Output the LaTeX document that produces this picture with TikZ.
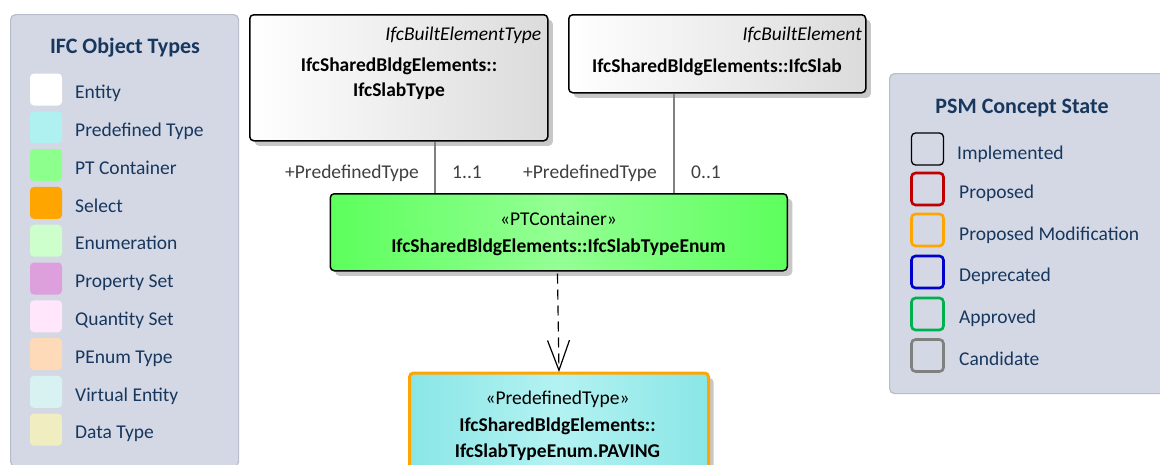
\documentclass[tikz,border=0pt]{standalone}
\usepackage{fontspec}
\setmainfont{Carlito}
\usetikzlibrary{arrows.meta,shadows}
\definecolor{legbg}{HTML}{D4D8E4}
\definecolor{legborder}{HTML}{B9BDCB}
\definecolor{navy}{HTML}{17375E}
\definecolor{conn}{HTML}{808080}
\definecolor{swPT}{HTML}{AFF0F0}
\definecolor{swPTC}{HTML}{8CFF8C}
\definecolor{swSel}{HTML}{FFA500}
\definecolor{swEnum}{HTML}{CCFFCC}
\definecolor{swPset}{HTML}{DDA0DD}
\definecolor{swQset}{HTML}{FFE6FA}
\definecolor{swPEnum}{HTML}{FFDAB9}
\definecolor{swVirt}{HTML}{D8F2F2}
\definecolor{swData}{HTML}{F0EEC0}
\definecolor{stRed}{HTML}{C00000}
\definecolor{stOrange}{HTML}{FFA500}
\definecolor{stBlue}{HTML}{0000CC}
\definecolor{stGreen}{HTML}{00B050}
\definecolor{stGrey}{HTML}{808080}
\definecolor{grA}{HTML}{5CFF5C}
\definecolor{grB}{HTML}{94FF94}
\definecolor{cyA}{HTML}{8AE6E6}
\definecolor{cyB}{HTML}{B4F2F2}
\tikzset{
  legbox/.style={draw=legborder, line width=1.2pt, fill=legbg, rounded corners=5pt, anchor=north west, inner sep=0pt},
  swatch/.style={rounded corners=4pt, minimum width=32pt, minimum height=32pt, inner sep=0pt},
  stbox/.style={swatch, fill=legbg, line width=2.6pt},
  legtext/.style={text=navy, font=\fontsize{19.5}{22}\selectfont, anchor=base west, inner sep=0pt},
  legtitle/.style={text=navy, font=\fontsize{22}{24}\selectfont\bfseries, anchor=base, inner sep=0pt},
  umlbox/.style={draw=black, line width=1.5pt, rounded corners=4pt, anchor=north west, inner sep=0pt,
     drop shadow={shadow xshift=5pt, shadow yshift=-5pt, fill=black!22, opacity=1}},
  stereo/.style={font=\fontsize{19.5}{22}\selectfont\itshape, anchor=base east, inner sep=0pt},
  bold/.style={font=\fontsize{19.5}{22}\selectfont\bfseries, anchor=base, inner sep=0pt},
  plain/.style={font=\fontsize{19.5}{22}\selectfont, anchor=base, inner sep=0pt},
  rolelabel/.style={text=black!75, font=\fontsize{19.5}{22}\selectfont, anchor=base west, inner sep=0pt},
  assoc/.style={draw=conn, line width=1.1pt},
  dep/.style={draw=black, line width=1.2pt, dash pattern=on 10pt off 6pt, -{Straight Barb[length=30pt,width=22pt,line width=1.2pt]}}
}
\begin{document}
\begin{tikzpicture}[x=1pt,y=-1pt]
\useasboundingbox (0,0) rectangle (1160,464);
\clip (0,0) rectangle (1160,464);

% ---------- left legend ----------
\node[legbox, minimum width=228pt, minimum height=452pt] (legA) at (10,14) {};
\node[legtitle] (legAtitle) at (125,53) {IFC Object Types};
\foreach \i/\col/\txt in {0/white/Entity, 1/swPT/Predefined Type, 2/swPTC/PT Container, 3/swSel/Select, 4/swEnum/Enumeration, 5/swPset/Property Set, 6/swQset/Quantity Set, 7/swPEnum/PEnum Type, 8/swVirt/Virtual Entity, 9/swData/Data Type}{
  \node[swatch, fill=\col] (sw\i) at (46,89.5+37.8*\i) {};
  \node[legtext] (swl\i) at (75,98.7+37.8*\i) {\txt};
}

% ---------- right legend ----------
\node[legbox, minimum width=290pt, minimum height=320pt] (legB) at (889,73) {};
\node[legtitle] (legBtitle) at (1022,113) {PSM Concept State};
\node[swatch, draw=black, fill=legbg, line width=1.3pt] (st0) at (927.5,149) {};
\node[legtext] (stl0) at (957,159) {Implemented};
\foreach \i/\col/\txt/\cy/\by in {1/stRed/Proposed/189/198, 2/stOrange/Proposed Modification/230/240, 3/stBlue/Deprecated/272/281, 4/stGreen/Approved/314/323, 5/stGrey/Candidate/355.5/365}{
  \node[stbox, draw=\col] (st\i) at (927.5,\cy) {};
  \node[legtext] (stl\i) at (959,\by) {\txt};
}

% ---------- UML boxes ----------
\node[umlbox, minimum width=298pt, minimum height=126pt, left color=white, right color=black!14] (slabtype) at (249,14) {};
\node[stereo] (slabtypeS) at (541.5,40) {IfcBuiltElementType};
\node[bold] (slabtypeN1) at (399,71) {IfcSharedBldgElements::};
\node[bold] (slabtypeN2) at (399,96) {IfcSlabType};

\node[umlbox, minimum width=297pt, minimum height=78pt, left color=white, right color=black!14] (slab) at (568,14) {};
\node[stereo] (slabS) at (862,40) {IfcBuiltElement};
\node[bold] (slabN) at (717,72) {IfcSharedBldgElements::IfcSlab};

\node[umlbox, minimum width=457pt, minimum height=77pt, left color=grA, right color=grA, middle color=grB] (enum) at (329.5,193) {};
\node[plain] (enumS) at (558.5,225) {«PTContainer»};
\node[bold] (enumN) at (558.5,252) {IfcSharedBldgElements::IfcSlabTypeEnum};

\node[umlbox, draw=stOrange, line width=3pt, minimum width=299pt, minimum height=110pt, left color=cyA, right color=cyA, middle color=cyB] (paving) at (408,371.5) {};
\node[plain] (pavingS) at (557.5,404) {«PredefinedType»};
\node[bold] (pavingN1) at (557.5,431) {IfcSharedBldgElements::};
\node[bold] (pavingN2) at (557.5,457) {IfcSlabTypeEnum.PAVING};

% ---------- connectors ----------
\coordinate (c1) at (435,140);
\coordinate (c2) at (674,92);
\draw[assoc] (slabtype.south -| c1) -- (enum.north -| c1);
\draw[assoc] (slab.south -| c2) -- (enum.north -| c2);
\node[rolelabel] (r1) at (285,178) {+PredefinedType};
\node[rolelabel] (m1) at (452,178) {1..1};
\node[rolelabel] (r2) at (523,178) {+PredefinedType};
\node[rolelabel] (m2) at (691,178) {0..1};

\draw[dep] ([yshift=-2pt]enum.south -| pavingS) -- ([yshift=-0.5pt]paving.north);
\end{tikzpicture}
\end{document}
